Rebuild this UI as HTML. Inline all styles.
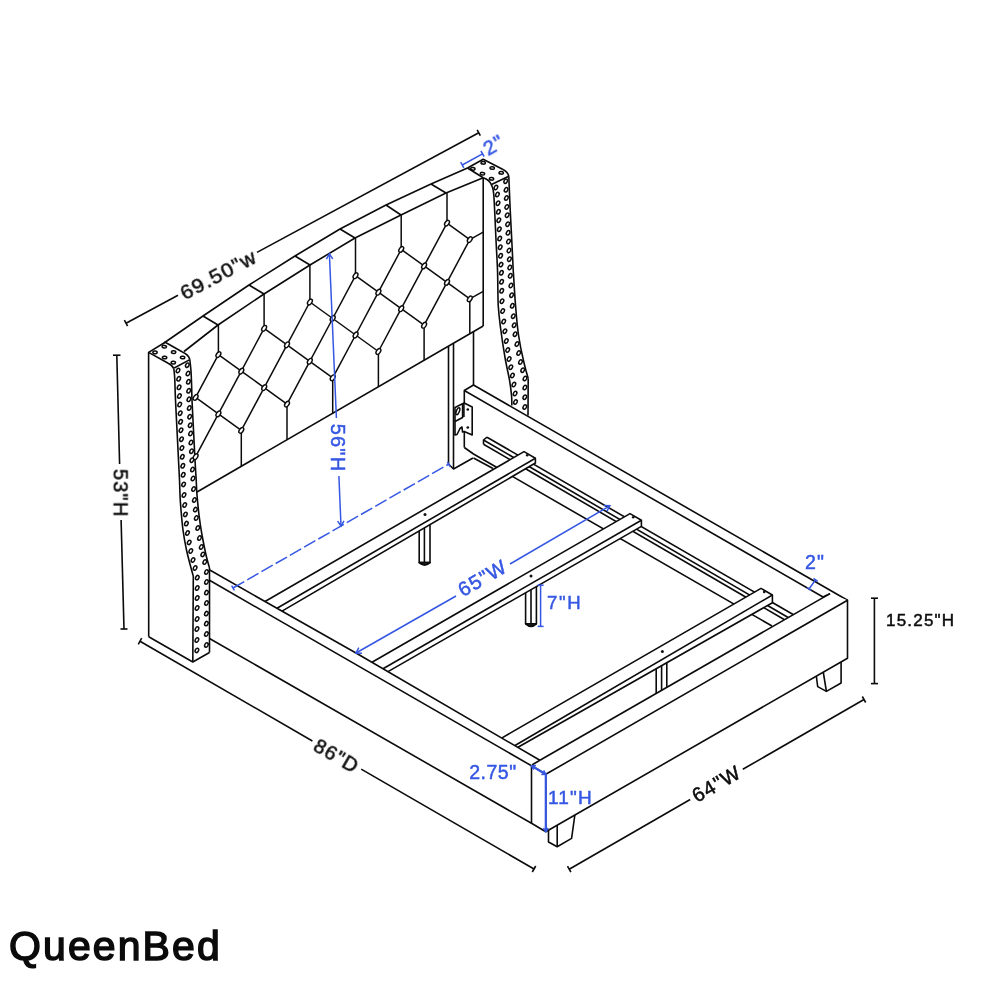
<!DOCTYPE html>
<html lang="en"><head><meta charset="utf-8"><title>QueenBed</title>
<style>
html,body{margin:0;padding:0;background:#fff}
svg{display:block}
.tk,.tb{opacity:.999}
text{font-family:"Liberation Sans",sans-serif}
.k path{fill:none;stroke:#0b0b0b;stroke-width:1.6;stroke-linejoin:round}
.f path{stroke:#0b0b0b;stroke-width:1.6;stroke-linejoin:round}
.f path.n{fill:#fff;stroke:none}
.k2 path{fill:none;stroke:#0b0b0b;stroke-width:1.5}
.btn ellipse{fill:#fff;stroke:#0b0b0b;stroke-width:1.4}
.stud ellipse{fill:#fff;stroke:#0b0b0b;stroke-width:1.5}
.f ellipse{fill:none;stroke:#0b0b0b;stroke-width:1}
.b path{fill:none;stroke:#3557e3;stroke-width:1.5}
.bd path{fill:none;stroke:#3557e3;stroke-width:1.5;stroke-dasharray:13 3.4}
.tk text{fill:#0b0b0b;stroke:#0b0b0b;stroke-width:.5;letter-spacing:1.2px}
.tb text{fill:#3557e3;stroke:#3557e3;stroke-width:.5;letter-spacing:1.2px}
.tk text.title{fill:#0b0b0b;stroke:#0b0b0b;stroke-width:1.5px;font-size:41px;letter-spacing:2.1px}
</style></head>
<body>
<svg width="1000" height="1000" viewBox="0 0 1000 1000">
<rect width="1000" height="1000" fill="#fff"/>
<g class="f" fill="none"><path d="M448.5 346.2L448.5 464"/><path d="M453.5 343.3L453.5 469"/><path d="M448.5 464L453.5 469L473 458"/><path d="M473.5 331.7L473.5 385"/><path d="M464.3 447.5L464.3 390.5L473.5 385L847.5 600.2"/><path d="M464.3 390.5L823 597"/><path d="M464.3 447.5L473.5 454L772 626"/><path d="M473.5 458L493 468.5"/><path d="M487 437.2L794 615"/><path d="M483.5 440L789 618"/><path d="M483.5 444.2L785 620"/><path d="M487 437.2L483.5 440L483.5 444.2"/><path d="M419.2 520L419.2 562.6L430 562.6L430 515"/><path d="M424.4 517.5L424.4 562.6"/><path d="M419.2 562.6Q424.6 567.6 430 562.6Z" fill="#222"/><path d="M525.6 580L525.6 623.8L536.4 623.8L536.4 575"/><path d="M531 577.5L531 623.8"/><path d="M525.6 623.8Q531 628.8 536.4 623.8Z" fill="#222"/><path d="M656.2 655L656.2 700L666.8 700L666.8 650"/><path d="M661.6 652.5L661.6 700"/><path d="M656.2 700Q661.5 705 666.8 700Z" fill="#222"/><path class="n" d="M265 601.5L524 451.6L535.4 458.2L535.4 463L282 611.1Z"/><path d="M265 601.5L524 451.6L535.4 458.2L535.4 463L282 611.1"/><path d="M277 608.3L535.4 458.2"/><circle cx="527.2" cy="455.2" r="1.3" fill="#111" stroke="none"/><path class="n" d="M372 662.3L630 513.6L641.4 520.2L641.4 526.4L388 671.6Z"/><path d="M372 662.3L630 513.6L641.4 520.2L641.4 526.4L388 671.6"/><path d="M383 668.7L641.4 520.2"/><circle cx="633.2" cy="517.2" r="1.3" fill="#111" stroke="none"/><path class="n" d="M502 737.9L761 588.4L772.4 595L772.4 602.7L518 747.2Z"/><path d="M502 737.9L761 588.4L772.4 595L772.4 602.7L518 747.2"/><path d="M515 745.5L772.4 595"/><circle cx="764.2" cy="592" r="1.3" fill="#111" stroke="none"/><circle cx="425" cy="514.4" r="1.5" fill="#111" stroke="none"/><circle cx="531" cy="576" r="1.5" fill="#111" stroke="none"/><circle cx="662.4" cy="651.4" r="1.5" fill="#111" stroke="none"/><path d="M548.5 826L548.5 842L557.2 846.8L571.6 838.4L575.4 811"/><path d="M557.2 820L557.2 846.8"/><path d="M815.8 672L817.7 686.6L826.4 691.4L841.1 683L841.1 658"/><path d="M822.6 668L826.4 691.4"/><path class="n" d="M539.9 760.3L830 593.6L847.5 600.2L847.5 658.2L545.8 831.8L545.8 774.3Z"/><path d="M539.9 760.3L830 593.6"/><path d="M545.8 774.3L847.5 600.2L847.5 658.2L545.8 831.8"/><path d="M823 597L830 593.6"/><path class="n" d="M209.8 570L265 601.5L356 653L539.9 760.3L545.8 774.3L545.8 831.8L531.5 823.3L209.5 638.5L209.5 569.5Z"/><path d="M209.8 570L265 601.5L356 653L539.9 760.3"/><path d="M209.5 580.3L531.5 765.8"/><path d="M209.5 638.5L531.5 823.3L545.8 831.8"/><path d="M531.5 765.8L531.5 823.3"/><path d="M539.9 760.3L532.2 764.8"/><path d="M531.5 765.8L545.8 774.3"/><path d="M545.8 774.3L545.8 831.8"/><path class="n" d="M455 407.5L462.5 403.8L464.2 403L472.2 407L472.2 435L464.2 431.5L462.5 432L462 427L460 428.5L457 434.5L455 435Z"/><path d="M464.2 403L472.2 407L472.2 435L464.2 431.5L462.5 432L462 427L460 428.5L457 434.5L455 435L455 407.5L462.5 403.8L464.2 403"/><path d="M455 421.5L462.6 417.5L462.6 404" stroke-width="1.9"/><path d="M463.9 403.4L463.9 417" stroke-width="1.2"/><ellipse cx="457.8" cy="411.2" rx="1.5" ry="3.7" transform="rotate(22 457.8 411.4)" style="stroke-width:1.5"/><circle cx="467.8" cy="409.5" r="1.35" fill="#111" stroke="none"/><circle cx="467.8" cy="427.5" r="1.35" fill="#111" stroke="none"/></g>
<g class="k"><path d="M164 343L203 316L249 285L295 256L340 229L386 205L431 184L467.5 168"/><path d="M184 351.5L218 325L264 294L310 265L355 238L401 215L446 193L483.2 177.8"/><path d="M203 316L218 325"/><path d="M249 285L264 294"/><path d="M295 256L310 265"/><path d="M340 229L355 238"/><path d="M386 205L401 215"/><path d="M431 184L446 193"/><path d="M483.2 177.8L483.2 326"/><path d="M483.2 326L197 492"/><path d="M148.7 636.8L148.6 352.4L165.2 342.2L182 351.8"/><path d="M182 351.8Q188.6 354.6 189.8 359.6"/><path d="M148.6 352.4L168.2 363.3Q172.6 365.6 173.8 368.6"/><path d="M174.2 368L189.8 359.6"/><path d="M173.8 368.6C173.9 369.5 174.2 372.1 174.4 374C174.6 375.9 174.6 375.7 174.8 380C175 384.3 175.1 391.7 175.5 400C175.9 408.3 176.5 420 177 430C177.5 440 178.1 451.7 178.5 460C178.9 468.3 179.2 474.2 179.5 480C179.8 485.8 179.8 490 180 495C180.2 500 180.5 504.2 181 510C181.5 515.8 182.1 523.3 183 530C183.9 536.7 185.2 544 186.5 550C187.8 556 189.4 561.7 190.5 566C191.6 570.3 192.8 574.3 193.3 576"/><path d="M193.3 576L192.8 662"/><path d="M189.8 359.6C190 361.5 190.7 366.8 191 371C191.3 375.2 191.4 380.2 191.6 385C191.8 389.8 191.7 392.5 192 400C192.3 407.5 193 420 193.5 430C194 440 194.6 451.7 195 460C195.4 468.3 195.9 474.2 196.2 480C196.5 485.8 196.5 489.2 197 495C197.5 500.8 198.2 508.3 199 515C199.8 521.7 200.8 528.3 202 535C203.2 541.7 204.8 549.5 206 555C207.2 560.5 208.9 565.8 209.5 568"/><path d="M209.5 568L209.5 652.5"/><path d="M148.7 636.8L192.8 662L209.5 652.5"/><path d="M467.5 168L483.2 159.3L503 169.5"/><path d="M503 169.5Q508 172 508.75 176.25"/><path d="M483.25 177.75Q489.5 180 491.5 185"/><path d="M491.5 184.5L508.8 176.2"/><path d="M467.5 168L483.2 177.8"/><path d="M491.5 185C491.9 186.7 493 185.8 493.8 195C494.5 204.2 495.4 227.5 496 240C496.6 252.5 497.1 259.2 497.5 270C497.9 280.8 497.8 295.4 498.2 305C498.8 314.6 499.4 318.8 500.5 327.5C501.6 336.2 503.5 348.8 505 357.5C506.5 366.2 508.4 373.8 509.5 380C510.6 386.2 511.1 390.8 511.5 395C511.9 399.2 511.8 403.8 511.8 405.5"/><path d="M508.8 176.2C509 181.9 509.6 196.9 510.2 210C510.9 223.1 512 245 512.5 255C513 265 512.8 261.7 513.2 270C513.8 278.3 514.6 294.2 515.5 305C516.4 315.8 517.1 325.5 518.5 335C519.9 344.5 522.1 354.8 523.8 362C525.4 369.2 527.5 375.8 528.2 378.5"/><path d="M528.2 378.5L528 415.5"/><path d="M126 323.2L178 295.3"/><path d="M257 252.4L478.8 132.8"/><path d="M124.4 320.2L127.6 326.2"/><path d="M477.2 129.9L480.3 135.6"/><path d="M116.8 355.2L119.6 464"/><path d="M121.1 520L124 629"/><path d="M113 355.2L120.5 355.2"/><path d="M120.5 629L127.5 629"/><path d="M140 641.2L312.4 741"/><path d="M361.2 769.1L534 869"/><path d="M141.7 638.2L138.3 644.3"/><path d="M535.7 866L532.3 872"/><path d="M569.2 869.2L690.2 799.5"/><path d="M742.8 769.3L864 699.5"/><path d="M567.5 866.2L570.9 872.2"/><path d="M862.3 696.5L865.7 702.5"/><path d="M874.4 598.2L874.4 683.6"/><path d="M871 598.2L878 598.2"/><path d="M871 683.6L878 683.6"/></g>
<g class="k2"><path d="M195.6 397.4L218.4 413.9"/><path d="M195.6 397.4L218.4 354.6"/><path d="M218.4 354.6L241.3 371.1"/><path d="M195.6 456.7L218.4 413.9"/><path d="M218.4 413.9L241.3 430.4"/><path d="M218.4 413.9L241.3 371.1"/><path d="M241.3 371.1L264.2 387.6"/><path d="M241.3 371.1L264.1 328.3"/><path d="M264.1 328.3L287 344.8"/><path d="M241.3 430.4L264.2 387.6"/><path d="M264.2 387.6L287 404.1"/><path d="M264.2 387.6L287 344.8"/><path d="M287 344.8L309.8 361.3"/><path d="M287 344.8L309.9 302"/><path d="M309.9 302L332.7 318.5"/><path d="M287 404.1L309.8 361.3"/><path d="M309.8 361.3L332.7 377.8"/><path d="M309.8 361.3L332.7 318.5"/><path d="M332.7 318.5L355.6 335"/><path d="M332.7 318.5L355.5 275.7"/><path d="M355.5 275.7L378.4 292.2"/><path d="M332.7 377.8L355.6 335"/><path d="M355.6 335L378.4 351.5"/><path d="M355.6 335L378.4 292.2"/><path d="M378.4 292.2L401.2 308.7"/><path d="M378.4 292.2L401.2 249.4"/><path d="M401.2 249.4L424.1 265.9"/><path d="M378.4 351.5L401.2 308.7"/><path d="M401.2 308.7L424.1 325.2"/><path d="M401.2 308.7L424.1 265.9"/><path d="M424.1 265.9L447 282.4"/><path d="M424.1 265.9L447 223.1"/><path d="M447 223.1L469.8 239.6"/><path d="M424.1 325.2L447 282.4"/><path d="M447 282.4L469.8 298.9"/><path d="M447 282.4L469.8 239.6"/><path d="M218.4 354.6L218.4 324.7"/><path d="M264.1 328.3L264.1 293.9"/><path d="M309.9 302L309.9 265.1"/><path d="M355.5 275.7L355.5 237.7"/><path d="M401.2 249.4L401.2 214.9"/><path d="M447 223.1L447 192.6"/><path d="M241.3 430.4L241.3 466.3"/><path d="M287 404.1L287 439.8"/><path d="M332.7 377.8L332.7 413.3"/><path d="M378.4 351.5L378.4 386.8"/><path d="M424.1 325.2L424.1 360.3"/><path d="M469.8 298.9L469.8 333.8"/><path d="M469.8 239.6L483.2 232.1"/><path d="M469.8 298.9L483.2 291.4"/></g>
<g class="btn"><ellipse cx="195.6" cy="397.4" rx="1.9" ry="3.2" transform="rotate(35 195.6 397.4)"/><ellipse cx="218.4" cy="354.6" rx="1.9" ry="3.2" transform="rotate(35 218.4 354.6)"/><ellipse cx="195.6" cy="456.7" rx="1.9" ry="3.2" transform="rotate(35 195.6 456.7)"/><ellipse cx="218.4" cy="413.9" rx="1.9" ry="3.2" transform="rotate(35 218.4 413.9)"/><ellipse cx="241.3" cy="371.1" rx="1.9" ry="3.2" transform="rotate(35 241.3 371.1)"/><ellipse cx="264.1" cy="328.3" rx="1.9" ry="3.2" transform="rotate(35 264.1 328.3)"/><ellipse cx="241.3" cy="430.4" rx="1.9" ry="3.2" transform="rotate(35 241.3 430.4)"/><ellipse cx="264.2" cy="387.6" rx="1.9" ry="3.2" transform="rotate(35 264.2 387.6)"/><ellipse cx="287" cy="344.8" rx="1.9" ry="3.2" transform="rotate(35 287 344.8)"/><ellipse cx="309.9" cy="302" rx="1.9" ry="3.2" transform="rotate(35 309.9 302)"/><ellipse cx="287" cy="404.1" rx="1.9" ry="3.2" transform="rotate(35 287 404.1)"/><ellipse cx="309.8" cy="361.3" rx="1.9" ry="3.2" transform="rotate(35 309.8 361.3)"/><ellipse cx="332.7" cy="318.5" rx="1.9" ry="3.2" transform="rotate(35 332.7 318.5)"/><ellipse cx="355.5" cy="275.7" rx="1.9" ry="3.2" transform="rotate(35 355.5 275.7)"/><ellipse cx="332.7" cy="377.8" rx="1.9" ry="3.2" transform="rotate(35 332.7 377.8)"/><ellipse cx="355.6" cy="335" rx="1.9" ry="3.2" transform="rotate(35 355.6 335)"/><ellipse cx="378.4" cy="292.2" rx="1.9" ry="3.2" transform="rotate(35 378.4 292.2)"/><ellipse cx="401.2" cy="249.4" rx="1.9" ry="3.2" transform="rotate(35 401.2 249.4)"/><ellipse cx="378.4" cy="351.5" rx="1.9" ry="3.2" transform="rotate(35 378.4 351.5)"/><ellipse cx="401.2" cy="308.7" rx="1.9" ry="3.2" transform="rotate(35 401.2 308.7)"/><ellipse cx="424.1" cy="265.9" rx="1.9" ry="3.2" transform="rotate(35 424.1 265.9)"/><ellipse cx="447" cy="223.1" rx="1.9" ry="3.2" transform="rotate(35 447 223.1)"/><ellipse cx="424.1" cy="325.2" rx="1.9" ry="3.2" transform="rotate(35 424.1 325.2)"/><ellipse cx="447" cy="282.4" rx="1.9" ry="3.2" transform="rotate(35 447 282.4)"/><ellipse cx="469.8" cy="239.6" rx="1.9" ry="3.2" transform="rotate(35 469.8 239.6)"/><ellipse cx="469.8" cy="298.9" rx="1.9" ry="3.2" transform="rotate(35 469.8 298.9)"/></g>
<g class="stud"><ellipse cx="178" cy="370.5" rx="1.6" ry="2.3" transform="rotate(28 178 370.5)"/><ellipse cx="178.7" cy="378.8" rx="1.6" ry="2.3" transform="rotate(28 178.7 378.8)"/><ellipse cx="179.1" cy="387.3" rx="1.6" ry="2.3" transform="rotate(28 179.1 387.3)"/><ellipse cx="179.4" cy="396" rx="1.6" ry="2.3" transform="rotate(28 179.4 396)"/><ellipse cx="179.7" cy="404.5" rx="1.6" ry="2.3" transform="rotate(28 179.7 404.5)"/><ellipse cx="180.2" cy="413.2" rx="1.6" ry="2.3" transform="rotate(28 180.2 413.2)"/><ellipse cx="180.6" cy="421.8" rx="1.6" ry="2.3" transform="rotate(28 180.6 421.8)"/><ellipse cx="181" cy="430.2" rx="1.6" ry="2.3" transform="rotate(28 181 430.2)"/><ellipse cx="181.5" cy="439.2" rx="1.6" ry="2.3" transform="rotate(28 181.5 439.2)"/><ellipse cx="181.9" cy="448" rx="1.6" ry="2.3" transform="rotate(28 181.9 448)"/><ellipse cx="182.3" cy="456.8" rx="1.6" ry="2.3" transform="rotate(28 182.3 456.8)"/><ellipse cx="182.8" cy="465.8" rx="1.6" ry="2.3" transform="rotate(28 182.8 465.8)"/><ellipse cx="183.2" cy="474.8" rx="1.6" ry="2.3" transform="rotate(28 183.2 474.8)"/><ellipse cx="183.6" cy="484.4" rx="1.6" ry="2.3" transform="rotate(28 183.6 484.4)"/><ellipse cx="184" cy="495" rx="1.6" ry="2.3" transform="rotate(28 184 495)"/><ellipse cx="184.7" cy="505" rx="1.6" ry="2.3" transform="rotate(28 184.7 505)"/><ellipse cx="185.4" cy="514.4" rx="1.6" ry="2.3" transform="rotate(28 185.4 514.4)"/><ellipse cx="186.4" cy="523.6" rx="1.6" ry="2.3" transform="rotate(28 186.4 523.6)"/><ellipse cx="187.5" cy="533" rx="1.6" ry="2.3" transform="rotate(28 187.5 533)"/><ellipse cx="189.2" cy="542.4" rx="1.6" ry="2.3" transform="rotate(28 189.2 542.4)"/><ellipse cx="190.8" cy="551" rx="1.6" ry="2.3" transform="rotate(28 190.8 551)"/><ellipse cx="193" cy="560" rx="1.6" ry="2.3" transform="rotate(28 193 560)"/><ellipse cx="195.1" cy="568" rx="1.6" ry="2.3" transform="rotate(28 195.1 568)"/><ellipse cx="197.3" cy="577.6" rx="1.6" ry="2.3" transform="rotate(28 197.3 577.6)"/><ellipse cx="197.2" cy="588" rx="1.6" ry="2.3" transform="rotate(28 197.2 588)"/><ellipse cx="197.2" cy="598" rx="1.6" ry="2.3" transform="rotate(28 197.2 598)"/><ellipse cx="197.1" cy="608" rx="1.6" ry="2.3" transform="rotate(28 197.1 608)"/><ellipse cx="197.1" cy="619" rx="1.6" ry="2.3" transform="rotate(28 197.1 619)"/><ellipse cx="197" cy="629" rx="1.6" ry="2.3" transform="rotate(28 197 629)"/><ellipse cx="196.9" cy="640" rx="1.6" ry="2.3" transform="rotate(28 196.9 640)"/><ellipse cx="196.9" cy="650.4" rx="1.6" ry="2.3" transform="rotate(28 196.9 650.4)"/><ellipse cx="187.3" cy="365.2" rx="1.6" ry="2.3" transform="rotate(28 187.3 365.2)"/><ellipse cx="188" cy="373.5" rx="1.6" ry="2.3" transform="rotate(28 188 373.5)"/><ellipse cx="188.4" cy="381.8" rx="1.6" ry="2.3" transform="rotate(28 188.4 381.8)"/><ellipse cx="188.7" cy="390.8" rx="1.6" ry="2.3" transform="rotate(28 188.7 390.8)"/><ellipse cx="188.9" cy="399.3" rx="1.6" ry="2.3" transform="rotate(28 188.9 399.3)"/><ellipse cx="189.3" cy="408" rx="1.6" ry="2.3" transform="rotate(28 189.3 408)"/><ellipse cx="189.7" cy="416.7" rx="1.6" ry="2.3" transform="rotate(28 189.7 416.7)"/><ellipse cx="190.2" cy="425.2" rx="1.6" ry="2.3" transform="rotate(28 190.2 425.2)"/><ellipse cx="190.6" cy="433.5" rx="1.6" ry="2.3" transform="rotate(28 190.6 433.5)"/><ellipse cx="191" cy="442.5" rx="1.6" ry="2.3" transform="rotate(28 191 442.5)"/><ellipse cx="191.5" cy="451.2" rx="1.6" ry="2.3" transform="rotate(28 191.5 451.2)"/><ellipse cx="191.9" cy="460.2" rx="1.6" ry="2.3" transform="rotate(28 191.9 460.2)"/><ellipse cx="192.5" cy="469.5" rx="1.6" ry="2.3" transform="rotate(28 192.5 469.5)"/><ellipse cx="193" cy="478.5" rx="1.6" ry="2.3" transform="rotate(28 193 478.5)"/><ellipse cx="193.6" cy="489" rx="1.6" ry="2.3" transform="rotate(28 193.6 489)"/><ellipse cx="194.4" cy="500" rx="1.6" ry="2.3" transform="rotate(28 194.4 500)"/><ellipse cx="195.4" cy="509.6" rx="1.6" ry="2.3" transform="rotate(28 195.4 509.6)"/><ellipse cx="196.3" cy="518" rx="1.6" ry="2.3" transform="rotate(28 196.3 518)"/><ellipse cx="197.8" cy="528" rx="1.6" ry="2.3" transform="rotate(28 197.8 528)"/><ellipse cx="199.5" cy="538" rx="1.6" ry="2.3" transform="rotate(28 199.5 538)"/><ellipse cx="201.3" cy="547" rx="1.6" ry="2.3" transform="rotate(28 201.3 547)"/><ellipse cx="202.8" cy="554.4" rx="1.6" ry="2.3" transform="rotate(28 202.8 554.4)"/><ellipse cx="204.8" cy="562" rx="1.6" ry="2.3" transform="rotate(28 204.8 562)"/><ellipse cx="206.5" cy="572" rx="1.6" ry="2.3" transform="rotate(28 206.5 572)"/><ellipse cx="206.5" cy="582" rx="1.6" ry="2.3" transform="rotate(28 206.5 582)"/><ellipse cx="206.5" cy="592.6" rx="1.6" ry="2.3" transform="rotate(28 206.5 592.6)"/><ellipse cx="206.5" cy="603" rx="1.6" ry="2.3" transform="rotate(28 206.5 603)"/><ellipse cx="206.4" cy="613.6" rx="1.6" ry="2.3" transform="rotate(28 206.4 613.6)"/><ellipse cx="206.4" cy="623.6" rx="1.6" ry="2.3" transform="rotate(28 206.4 623.6)"/><ellipse cx="206.4" cy="634" rx="1.6" ry="2.3" transform="rotate(28 206.4 634)"/><ellipse cx="206.4" cy="645" rx="1.6" ry="2.3" transform="rotate(28 206.4 645)"/><ellipse cx="155" cy="352.4" rx="2.2" ry="1.3" transform="rotate(8 155 352.4)"/><ellipse cx="164.3" cy="346.7" rx="2.2" ry="1.3" transform="rotate(8 164.3 346.7)"/><ellipse cx="173.6" cy="352.1" rx="2.2" ry="1.3" transform="rotate(8 173.6 352.1)"/><ellipse cx="182.6" cy="357.5" rx="2.2" ry="1.3" transform="rotate(8 182.6 357.5)"/><ellipse cx="164.6" cy="357.5" rx="2.2" ry="1.3" transform="rotate(8 164.6 357.5)"/><ellipse cx="173.3" cy="362.6" rx="2.2" ry="1.3" transform="rotate(8 173.3 362.6)"/><ellipse cx="495.9" cy="187.5" rx="1.6" ry="2.3" transform="rotate(28 495.9 187.5)"/><ellipse cx="497.4" cy="194.5" rx="1.6" ry="2.3" transform="rotate(28 497.4 194.5)"/><ellipse cx="498" cy="203.2" rx="1.6" ry="2.3" transform="rotate(28 498 203.2)"/><ellipse cx="498.4" cy="211.8" rx="1.6" ry="2.3" transform="rotate(28 498.4 211.8)"/><ellipse cx="498.8" cy="220.2" rx="1.6" ry="2.3" transform="rotate(28 498.8 220.2)"/><ellipse cx="499.3" cy="229.2" rx="1.6" ry="2.3" transform="rotate(28 499.3 229.2)"/><ellipse cx="499.7" cy="238.5" rx="1.6" ry="2.3" transform="rotate(28 499.7 238.5)"/><ellipse cx="500.2" cy="247.2" rx="1.6" ry="2.3" transform="rotate(28 500.2 247.2)"/><ellipse cx="500.6" cy="255.8" rx="1.6" ry="2.3" transform="rotate(28 500.6 255.8)"/><ellipse cx="501" cy="264.6" rx="1.6" ry="2.3" transform="rotate(28 501 264.6)"/><ellipse cx="501.4" cy="272.8" rx="1.6" ry="2.3" transform="rotate(28 501.4 272.8)"/><ellipse cx="501.6" cy="281.8" rx="1.6" ry="2.3" transform="rotate(28 501.6 281.8)"/><ellipse cx="501.7" cy="290.8" rx="1.6" ry="2.3" transform="rotate(28 501.7 290.8)"/><ellipse cx="502" cy="301.2" rx="1.6" ry="2.3" transform="rotate(28 502 301.2)"/><ellipse cx="502.7" cy="311" rx="1.6" ry="2.3" transform="rotate(28 502.7 311)"/><ellipse cx="503.7" cy="321.5" rx="1.6" ry="2.3" transform="rotate(28 503.7 321.5)"/><ellipse cx="504.9" cy="331.2" rx="1.6" ry="2.3" transform="rotate(28 504.9 331.2)"/><ellipse cx="506.3" cy="341" rx="1.6" ry="2.3" transform="rotate(28 506.3 341)"/><ellipse cx="507.7" cy="350" rx="1.6" ry="2.3" transform="rotate(28 507.7 350)"/><ellipse cx="509.1" cy="359" rx="1.6" ry="2.3" transform="rotate(28 509.1 359)"/><ellipse cx="510.8" cy="367.2" rx="1.6" ry="2.3" transform="rotate(28 510.8 367.2)"/><ellipse cx="512.4" cy="375.5" rx="1.6" ry="2.3" transform="rotate(28 512.4 375.5)"/><ellipse cx="513.9" cy="384.5" rx="1.6" ry="2.3" transform="rotate(28 513.9 384.5)"/><ellipse cx="515.1" cy="393.5" rx="1.6" ry="2.3" transform="rotate(28 515.1 393.5)"/><ellipse cx="515.5" cy="402" rx="1.6" ry="2.3" transform="rotate(28 515.5 402)"/><ellipse cx="505.7" cy="181.2" rx="1.6" ry="2.3" transform="rotate(28 505.7 181.2)"/><ellipse cx="506.1" cy="189.8" rx="1.6" ry="2.3" transform="rotate(28 506.1 189.8)"/><ellipse cx="506.4" cy="198" rx="1.6" ry="2.3" transform="rotate(28 506.4 198)"/><ellipse cx="506.8" cy="207" rx="1.6" ry="2.3" transform="rotate(28 506.8 207)"/><ellipse cx="507.2" cy="215.2" rx="1.6" ry="2.3" transform="rotate(28 507.2 215.2)"/><ellipse cx="507.7" cy="224.2" rx="1.6" ry="2.3" transform="rotate(28 507.7 224.2)"/><ellipse cx="508.1" cy="232.8" rx="1.6" ry="2.3" transform="rotate(28 508.1 232.8)"/><ellipse cx="508.5" cy="241.5" rx="1.6" ry="2.3" transform="rotate(28 508.5 241.5)"/><ellipse cx="509" cy="250.5" rx="1.6" ry="2.3" transform="rotate(28 509 250.5)"/><ellipse cx="509.4" cy="259.2" rx="1.6" ry="2.3" transform="rotate(28 509.4 259.2)"/><ellipse cx="509.8" cy="267.5" rx="1.6" ry="2.3" transform="rotate(28 509.8 267.5)"/><ellipse cx="510.3" cy="275.8" rx="1.6" ry="2.3" transform="rotate(28 510.3 275.8)"/><ellipse cx="510.9" cy="285.5" rx="1.6" ry="2.3" transform="rotate(28 510.9 285.5)"/><ellipse cx="511.6" cy="295.2" rx="1.6" ry="2.3" transform="rotate(28 511.6 295.2)"/><ellipse cx="512.3" cy="305.8" rx="1.6" ry="2.3" transform="rotate(28 512.3 305.8)"/><ellipse cx="513.3" cy="316.2" rx="1.6" ry="2.3" transform="rotate(28 513.3 316.2)"/><ellipse cx="514.2" cy="325.2" rx="1.6" ry="2.3" transform="rotate(28 514.2 325.2)"/><ellipse cx="515.1" cy="334.2" rx="1.6" ry="2.3" transform="rotate(28 515.1 334.2)"/><ellipse cx="517" cy="344" rx="1.6" ry="2.3" transform="rotate(28 517 344)"/><ellipse cx="518.7" cy="353" rx="1.6" ry="2.3" transform="rotate(28 518.7 353)"/><ellipse cx="520.5" cy="362" rx="1.6" ry="2.3" transform="rotate(28 520.5 362)"/><ellipse cx="522.7" cy="370.2" rx="1.6" ry="2.3" transform="rotate(28 522.7 370.2)"/><ellipse cx="525" cy="378.5" rx="1.6" ry="2.3" transform="rotate(28 525 378.5)"/><ellipse cx="524.9" cy="387.5" rx="1.6" ry="2.3" transform="rotate(28 524.9 387.5)"/><ellipse cx="524.8" cy="397.2" rx="1.6" ry="2.3" transform="rotate(28 524.8 397.2)"/><ellipse cx="524.8" cy="407" rx="1.6" ry="2.3" transform="rotate(28 524.8 407)"/><ellipse cx="472.8" cy="168.8" rx="2.2" ry="1.3" transform="rotate(8 472.8 168.8)"/><ellipse cx="483.2" cy="162.8" rx="2.2" ry="1.3" transform="rotate(8 483.2 162.8)"/><ellipse cx="492.2" cy="168" rx="2.2" ry="1.3" transform="rotate(8 492.2 168)"/><ellipse cx="501.2" cy="172.8" rx="2.2" ry="1.3" transform="rotate(8 501.2 172.8)"/><ellipse cx="482.5" cy="173.7" rx="2.2" ry="1.3" transform="rotate(8 482.5 173.7)"/><ellipse cx="491.5" cy="178.8" rx="2.2" ry="1.3" transform="rotate(8 491.5 178.8)"/></g>
<g class="b"><path d="M462.2 165L482.5 153.8"/><path d="M460.7 162.2L463.8 167.8"/><path d="M480.9 151L484.1 156.5"/><path d="M329.4 254L336.4 418"/><path d="M338.9 476L341 526"/><path d="M326.4 259.2L329.4 254L332.8 258.9"/><path d="M344 520.8L341 526L337.6 521.1"/><path d="M231.6 585.6L234.4 590.4"/><path d="M447.4 461.8L450.2 466.6"/><path d="M356 653L456 596"/><path d="M510 564L609.8 505.8"/><path d="M362 653.2L356 653L358.8 647.7"/><path d="M603.8 505.6L609.8 505.8L607 511.1"/><path d="M540.6 585.2L540.6 626.4"/><path d="M537.6 585.2L543.6 585.2"/><path d="M537.6 626.4L543.6 626.4"/><path d="M809 589L815.6 579.8"/><path d="M806.9 587.5L811.1 590.5"/><path d="M813.5 578.3L817.7 581.3"/><path d="M531.5 765.8L545.8 774.3L545.8 831.8" style="stroke-width:2.2"/><path d="M533.7 769.7L531.5 765.8L536 765.5"/><path d="M543.6 770.4L545.8 774.3L541.3 774.6"/><path d="M548.2 828L545.8 831.8L543.4 828"/></g>
<g class="bd"><path d="M233 588L449 464"/></g>
<g class="tk"><text x="221.5" y="280.5" font-size="21" text-anchor="middle" transform="rotate(-28 221.5 280.5)">69.50&quot;w</text><text x="113.5" y="493.2" font-size="20" text-anchor="middle" transform="rotate(90 113.5 493.2)">53&quot;H</text><text x="333.3" y="761.5" font-size="20" text-anchor="middle" transform="rotate(30 333.3 761.5)">86&quot;D</text><text x="720" y="789.8" font-size="20" text-anchor="middle" transform="rotate(-30 720 789.8)">64&quot;W</text><text x="886" y="626" font-size="17" text-anchor="start">15.25&quot;H</text><text class="title" x="9" y="959.5">QueenBed</text></g>
<g class="tb"><text x="497" y="150.5" font-size="20.5" text-anchor="middle" transform="rotate(-30 497 150.5)">2&quot;</text><text x="331" y="448" font-size="20" text-anchor="middle" transform="rotate(90 331 448)">56&quot;H</text><text x="486" y="584" font-size="20" text-anchor="middle" transform="rotate(-30 486 584)">65&quot;W</text><text x="547" y="608.8" font-size="18.6" text-anchor="start" style="letter-spacing:1.7px">7&quot;H</text><text x="805" y="569" font-size="19.5" text-anchor="start">2&quot;</text><text x="469.2" y="779" font-size="19.5" text-anchor="start" style="letter-spacing:.5px">2.75&quot;</text><text x="548" y="804" font-size="19" text-anchor="start">11&quot;H</text></g>
</svg>
</body></html>
